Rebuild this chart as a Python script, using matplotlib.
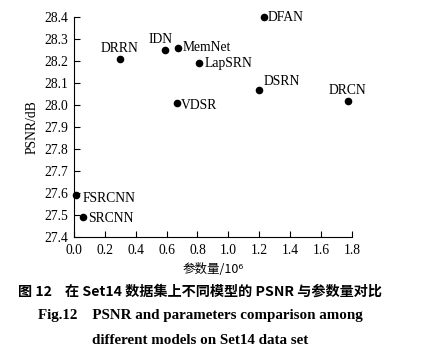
import matplotlib

matplotlib.use("Agg")
import matplotlib.pyplot as plt

models = ["DFAN", "MemNet", "IDN", "DRRN", "LapSRN", "DSRN", "DRCN", "VDSR", "FSRCNN", "SRCNN"]
params = [1.23, 0.677, 0.591, 0.297, 0.812, 1.20, 1.774, 0.665, 0.012, 0.057]
psnr = [28.40, 28.26, 28.25, 28.21, 28.19, 28.07, 28.02, 28.01, 27.59, 27.49]
xticks = [0.0, 0.2, 0.4, 0.6, 0.8, 1.0, 1.2, 1.4, 1.6, 1.8]
yticks = [27.4, 27.5, 27.6, 27.7, 27.8, 27.9, 28.0, 28.1, 28.2, 28.3, 28.4]

# label offsets in points (dx, dy, ha, va)
offsets = {
    "DFAN": (3, 0, "left", "center"),
    "MemNet": (3, 0, "left", "center"),
    "IDN": (-3, 3, "center", "bottom"),
    "DRRN": (0, 3, "center", "bottom"),
    "LapSRN": (4, 0, "left", "center"),
    "DSRN": (3, 1, "left", "bottom"),
    "DRCN": (0, 3, "center", "bottom"),
    "VDSR": (3, -2, "left", "center"),
    "FSRCNN": (5, -2, "left", "center"),
    "SRCNN": (4, -1, "left", "center"),
}

serif = ["Liberation Serif", "DejaVu Serif"]
cjk = ["Noto Sans CJK SC", "DejaVu Sans"]

fig = plt.figure(figsize=(4.25, 3.57), dpi=100)
ax = fig.add_axes([0.174, 0.336, 0.654, 0.616])
ax.scatter(params, psnr, s=20, color="black", zorder=3, clip_on=False)
for name, x, y in zip(models, params, psnr):
    dx, dy, ha, va = offsets[name]
    ax.annotate(name, (x, y), xytext=(dx, dy), textcoords="offset points",
                ha=ha, va=va, fontsize=9.8, family=serif)

ax.set_xlim(0, 1.8)
ax.set_ylim(27.4, 28.4)
ax.set_xticks(xticks)
ax.set_yticks(yticks)
ax.set_xticklabels([f"{t:.1f}" for t in xticks], family=serif, fontsize=9.8)
ax.set_yticklabels([f"{t:.1f}" for t in yticks], family=serif, fontsize=9.8)
ax.tick_params(direction="in", length=4, width=0.8)
ax.tick_params(axis="x", pad=5)
ax.tick_params(axis="y", pad=4)
ax.spines["top"].set_visible(False)
ax.spines["right"].set_visible(False)
ax.set_ylabel("PSNR/dB", family=serif, fontsize=9.8, labelpad=4)
ax.set_xlabel("参数量/10⁶", family=cjk, fontsize=9, labelpad=4)

cx = 200 / 425
fig.text(cx, 1 - 292 / 357, "图 12    在 Set14 数据集上不同模型的 PSNR 与参数量对比",
         ha="center", va="center", fontsize=10.2, fontweight="bold", family=cjk)
fig.text(cx, 1 - 316 / 357, "Fig.12    PSNR and parameters comparison among",
         ha="center", va="center", fontsize=10.8, fontweight="bold", family=serif)
fig.text(cx, 1 - 340 / 357, "different models on Set14 data set",
         ha="center", va="center", fontsize=10.8, fontweight="bold", family=serif)

fig.savefig("out.png", dpi=100)
